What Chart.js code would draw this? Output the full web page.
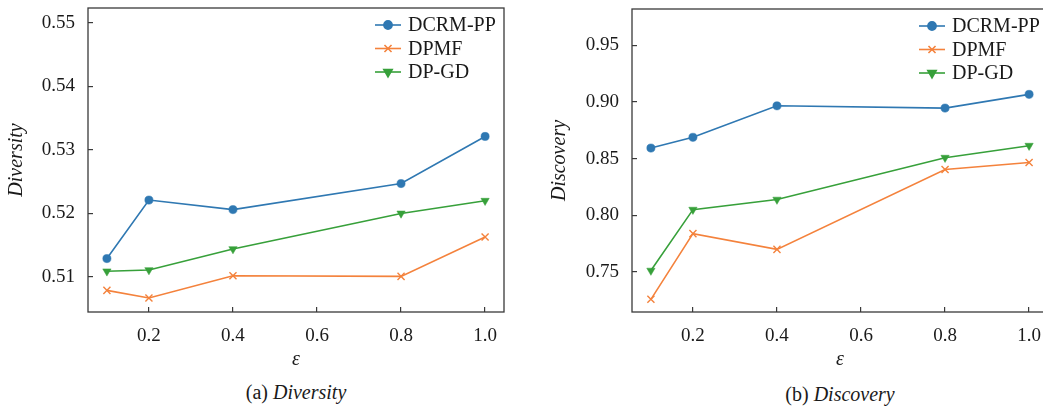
<!DOCTYPE html>
<html><head><meta charset="utf-8">
<script src="https://cdn.jsdelivr.net/npm/chart.js@4/dist/chart.umd.min.js"></script>
<style>
html,body{margin:0;padding:0;background:#fff;width:1043px;height:407px;overflow:hidden;}
#wrap{position:relative;width:1043px;height:407px;overflow:hidden;background:#fff;}
canvas{position:absolute;top:0;}
.cap{position:absolute;font-family:"Liberation Serif",serif;font-size:20px;line-height:23px;color:#1a1a1a;white-space:nowrap;transform:translateX(-50%);}
</style></head>
<body><div id="wrap">
<canvas id="c1" width="520" height="380" style="left:0"></canvas>
<canvas id="c2" width="530" height="380" style="left:530px"></canvas>
<div class="cap" style="left:296px;top:381px">(a) <i>Diversity</i></div>
<div class="cap" style="left:840px;top:383px">(b) <i>Discovery</i></div>
</div>
<script>
const epsilons = [0.1, 0.2, 0.4, 0.8, 1.0];
const seriesNames = ['DCRM-PP', 'DPMF', 'DP-GD'];
const diversityDCRM = [0.5129, 0.5221, 0.5206, 0.5247, 0.5321];
const diversityDPMF = [0.5079, 0.5067, 0.5102, 0.5101, 0.5163];
const diversityDPGD = [0.5109, 0.5111, 0.5144, 0.5200, 0.5220];
const discoveryDCRM = [0.8594, 0.8689, 0.8967, 0.8947, 0.9068];
const discoveryDPMF = [0.7258, 0.7838, 0.7699, 0.8405, 0.8467];
const discoveryDPGD = [0.7512, 0.8050, 0.8139, 0.8509, 0.8615];
const xTicks = [0.2, 0.4, 0.6, 0.8, 1.0];
const diversityTicks = [0.51, 0.52, 0.53, 0.54, 0.55];
const discoveryTicks = [0.75, 0.80, 0.85, 0.90, 0.95];

const FONT = "'Liberation Serif', 'Times New Roman', serif";
const TXT = '#1a1a1a';
const AX = '#3a3a3a';
const styles = [
  {color:'#2f78b2', pointStyle:'circle', radius:4.1, rotation:0, fill:true},
  {color:'#f4823c', pointStyle:'crossRot', radius:5, rotation:0, fill:false},
  {color:'#37a03a', pointStyle:'triangle', radius:4.8, rotation:180, fill:true}
];

function makeDatasets(arrs){
  return arrs.map((vals, i) => {
    const s = styles[i];
    return {
      label: seriesNames[i],
      data: epsilons.map((x, j) => ({x: x, y: vals[j]})),
      borderColor: s.color,
      backgroundColor: s.color,
      borderWidth: 1.6,
      pointStyle: s.pointStyle,
      pointRadius: s.radius,
      pointRotation: s.rotation,
      pointBackgroundColor: s.color,
      pointBorderColor: s.color,
      pointBorderWidth: s.fill ? 0.5 : 1.4,
      fill: false,
      tension: 0
    };
  });
}

const framePlugin = {
  id: 'frame',
  afterDraw(chart){
    const {ctx, chartArea:a} = chart;
    ctx.save();
    ctx.strokeStyle = AX; ctx.lineWidth = 1.3;
    ctx.strokeRect(a.left, a.top, a.right - a.left, a.bottom - a.top);
    ctx.restore();
  }
};

const legendPlugin = {
  id: 'mplLegend',
  afterDatasetsDraw(chart){
    const {ctx, chartArea:a} = chart;
    chart.data.datasets.forEach((ds, i) => {
      const y = a.top + 17 + i * 23.5;
      const x0 = a.right - 129, x1 = x0 + 26;
      ctx.save();
      ctx.strokeStyle = ds.borderColor; ctx.lineWidth = ds.borderWidth;
      ctx.beginPath(); ctx.moveTo(x0, y); ctx.lineTo(x1, y); ctx.stroke();
      ctx.fillStyle = ds.pointBackgroundColor; ctx.strokeStyle = ds.pointBorderColor;
      Chart.helpers.drawPoint(ctx, {pointStyle: ds.pointStyle, radius: ds.pointRadius, rotation: ds.pointRotation, borderWidth: ds.pointBorderWidth}, (x0 + x1) / 2, y);
      ctx.fillStyle = TXT;
      ctx.font = '20px ' + FONT;
      ctx.textBaseline = 'middle'; ctx.textAlign = 'left';
      ctx.fillText(ds.label, a.right - 96, y + 1);
      ctx.restore();
    });
  }
};

function makeChart(id, cfg){
  return new Chart(document.getElementById(id), {
    type: 'line',
    data: {datasets: makeDatasets(cfg.series)},
    options: {
      responsive: false, animation: false,
      layout: {padding: {left: 0, top: cfg.padTop, right: cfg.padRight, bottom: 0}},
      plugins: {legend: {display: false}, tooltip: {enabled: false}},
      scales: {
        x: {
          type: 'linear', position: 'bottom', min: 0.055, max: 1.045,
          afterBuildTicks: s => { s.ticks = xTicks.map(v => ({value: v})); },
          afterFit: s => { s.height = 68; s.paddingLeft = 0; s.paddingRight = 0; },
          grid: {display: true, drawOnChartArea: false, drawTicks: true, tickLength: -5, color: AX, lineWidth: 1.2},
          border: {display: false},
          ticks: {color: TXT, font: {family: FONT, size: 19}, padding: 18, maxRotation: 0, autoSkip: false,
                  callback: v => Number(v).toFixed(1)},
          title: {display: true, text: 'ε', color: TXT, font: {family: FONT, size: 20, style: 'italic'}, padding: {top: 0, bottom: 8}}
        },
        y: {
          type: 'linear', position: 'left', min: cfg.yMin, max: cfg.yMax,
          afterBuildTicks: s => { s.ticks = cfg.yTicks.map(v => ({value: v})); },
          afterFit: s => { s.width = cfg.yWidth; s.paddingTop = 0; s.paddingBottom = 0; },
          grid: {display: true, drawOnChartArea: false, drawTicks: true, tickLength: -5, color: AX, lineWidth: 1.2},
          border: {display: false},
          ticks: {color: TXT, font: {family: FONT, size: 19}, padding: 18, autoSkip: false,
                  callback: v => Number(v).toFixed(2)},
          title: {display: true, text: cfg.yTitle, color: TXT, font: {family: FONT, size: 20, style: 'italic'}, padding: {top: cfg.titlePad, bottom: 0}}
        }
      }
    },
    plugins: [framePlugin, legendPlugin]
  });
}

function build(){
  Chart.defaults.font.family = FONT;
  makeChart('c1', {
    series: [diversityDCRM, diversityDPMF, diversityDPGD],
    yMin: 0.5045, yMax: 0.5523, yTicks: diversityTicks, yTitle: 'Diversity',
    yWidth: 88, padTop: 8, padRight: 16, titlePad: 5
  });
  makeChart('c2', {
    series: [discoveryDCRM, discoveryDPMF, discoveryDPGD],
    yMin: 0.7146, yMax: 0.9822, yTicks: discoveryTicks, yTitle: 'Discovery',
    yWidth: 102, padTop: 9, padRight: 12, titlePad: 18
  });
}

if (document.fonts && document.fonts.load) {
  Promise.all([
    document.fonts.load("20px 'Liberation Serif'"),
    document.fonts.load("italic 20px 'Liberation Serif'")
  ]).then(build, build);
} else {
  build();
}
</script>
</body></html>
